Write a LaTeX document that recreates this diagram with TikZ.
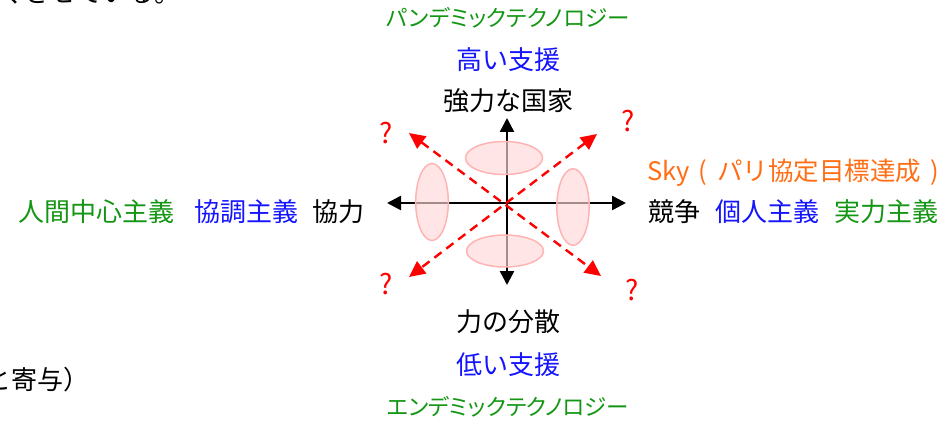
\documentclass[tikz,border=0pt]{standalone}
\usepackage{fontspec}
\setmainfont{Noto Sans CJK JP}
\newfontfamily\katafont[RawFeature=+palt]{Noto Sans CJK JP}
\usetikzlibrary{arrows.meta}
\definecolor{tgreen}{RGB}{20,150,20}
\definecolor{tblue}{RGB}{20,20,255}
\definecolor{torange}{RGB}{255,110,20}
\definecolor{tred}{RGB}{255,0,0}
\definecolor{epink}{RGB}{255,215,215}
\definecolor{eborder}{RGB}{255,180,180}
\begin{document}
\begin{tikzpicture}[x=1pt,y=-1pt,
  lbl/.style={inner sep=0pt, font=\fontsize{26}{26}\selectfont},
  kata/.style={inner sep=0pt, font=\katafont\fontsize{22.5}{22.5}\selectfont, text=tgreen},
  qm/.style={inner sep=0pt, font=\fontsize{28}{28}\selectfont, text=tred},
  axis/.style={line width=2.5pt, {Triangle[length=14pt,width=14pt]}-{Triangle[length=14pt,width=14pt]}},
  diag/.style={tred, line width=2.4pt, dash pattern=on 9pt off 6pt, {Triangle[length=16pt,width=15pt]}-{Triangle[length=16pt,width=15pt]}},
  blob/.style={fill=epink, fill opacity=0.65, draw=eborder, line width=1.5pt}]
\useasboundingbox (0,0) rectangle (950,422);
% fragments
\node[lbl, anchor=base west] (frag1) at (-2,3) {くさせている。};
\node[lbl, anchor=east] (frag2) at (90,380) {と寄与）};
% axes
\coordinate (o) at (507,203);
\coordinate (top) at (507,118);
\coordinate (bot) at (507,285);
\coordinate (lft) at (387,203);
\coordinate (rgt) at (626,203);
\draw[axis] (top) -- (bot);
\draw[axis] (lft) -- (rgt);
% ellipses
\draw[blob] (504,158) ellipse [x radius=38.5, y radius=16.5];
\draw[blob] (505,251) ellipse [x radius=38.5, y radius=16];
\draw[blob] (432,202) ellipse [x radius=16.3, y radius=38.5];
\draw[blob] (573,207) ellipse [x radius=16.2, y radius=38.3];
% diagonals
\coordinate (ul) at (409,133);
\coordinate (lr) at (601,276);
\coordinate (ur) at (597,134);
\coordinate (ll) at (409,277);
\draw[diag] (ul) -- (lr);
\draw[diag] (ur) -- (ll);
% question marks
\node[qm] (q1) at (386,133) {?};
\node[qm] (q2) at (628,121) {?};
\node[qm] (q3) at (386,284) {?};
\node[qm] (q4) at (632,290) {?};
% top labels
\node[kata] (pan) at (508,18) {パンデミックテクノロジー};
\node[lbl, text=tblue] (high) at (508,60) {高い支援};
\node[lbl] (strong) at (508,101) {強力な国家};
% bottom labels
\node[lbl] (disp) at (508,322) {力の分散};
\node[lbl, text=tblue] (low) at (508,365) {低い支援};
\node[kata] (end) at (508,407) {エンデミックテクノロジー};
% left labels
\node[lbl, text=tgreen] (human) at (96,212) {人間中心主義};
\node[lbl, text=tblue] (coord) at (246.5,212) {協調主義};
\node[lbl] (coop) at (338.5,212) {協力};
% right labels
\node[lbl, text=torange, font=\fontsize{25.5}{25.5}\selectfont, anchor=west] (sky) at (647,173) {Sky\hspace{9pt}(\hspace{10pt}パリ協定目標達成\hspace{9pt})};
\node[lbl] (comp) at (674,212) {競争};
\node[lbl, text=tblue] (indiv) at (767.5,212) {個人主義};
\node[lbl, text=tgreen] (merit) at (886,212) {実力主義};
\end{tikzpicture}
\end{document}
